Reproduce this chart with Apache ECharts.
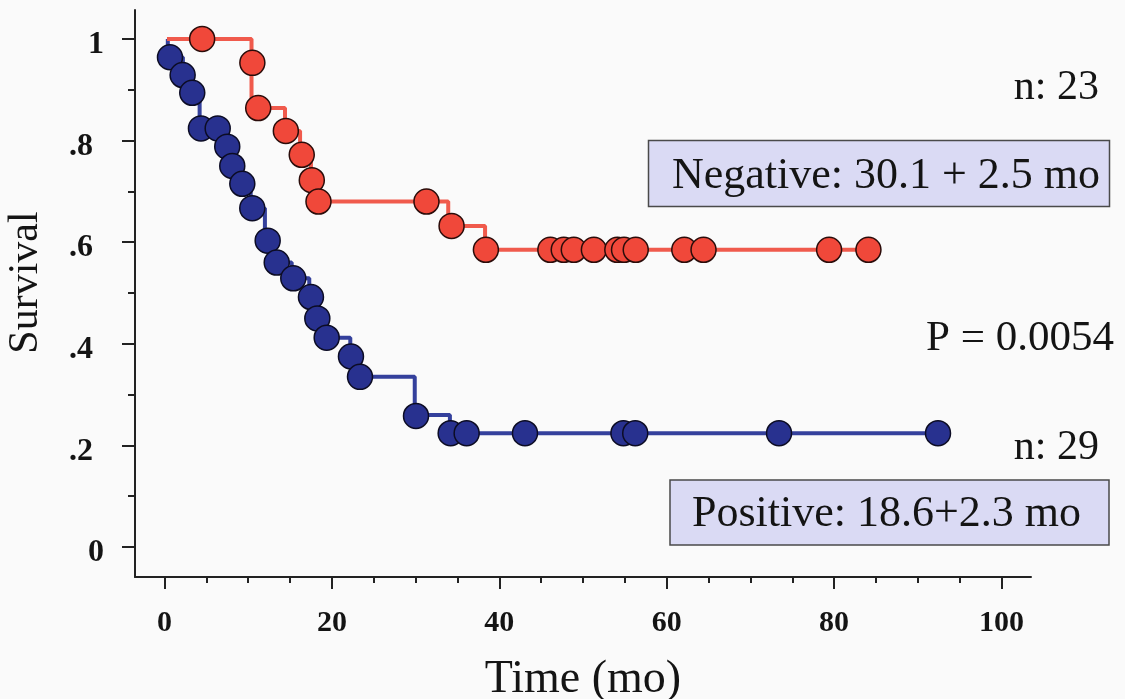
<!DOCTYPE html>
<html>
<head>
<meta charset="utf-8">
<title>Survival by status</title>
<script src="https://cdn.jsdelivr.net/npm/echarts@6/dist/echarts.min.js"></script>
<style>
  html, body { margin: 0; padding: 0; background: #fafafa; }
  #chart { width: 1125px; height: 699px; }
</style>
</head>
<body>
<div id="chart"></div>
<script>
// Kaplan-Meier step curves: each point is (time, survival from that time on)
const negStepTime = [0.3, 10.4, 14.4, 16.2, 17.5, 18.3, 33.9, 38.3, 84.1];
const negStepSurv = [1.0, 0.864, 0.819, 0.772, 0.722, 0.680, 0.632, 0.585, 0.585];

const posStepTime = [0.4, 0.4, 2.2, 3.3, 4.2, 7.0, 8.0, 9.2, 10.3, 12.0, 13.2, 15.2, 17.3, 18.1, 19.2, 22.2, 23.4, 29.9, 34.1, 92.4];
const posStepSurv = [1.0, 0.964, 0.929, 0.894, 0.824, 0.788, 0.750, 0.715, 0.667, 0.603, 0.560, 0.529, 0.492, 0.450, 0.412, 0.375, 0.335, 0.260, 0.224, 0.224];

// Patient markers
const negMarkTime = [4.5, 10.5, 11.2, 14.5, 16.4, 17.6, 18.4, 31.3, 34.3, 38.4, 46.1, 47.7, 48.9, 51.3, 54.1, 54.9, 56.3, 62.1, 64.4, 79.4, 84.1];
const negMarkSurv = [1.0, 0.953, 0.864, 0.819, 0.772, 0.722, 0.680, 0.680, 0.632, 0.585, 0.585, 0.585, 0.585, 0.585, 0.585, 0.585, 0.585, 0.585, 0.585, 0.585, 0.585];

const posMarkTime = [0.66, 2.17, 3.32, 4.36, 6.36, 7.50, 8.10, 9.30, 10.49, 12.33, 13.41, 15.39, 17.50, 18.26, 19.38, 22.28, 23.36, 30.05, 34.19, 36.10, 43.07, 54.83, 56.24, 73.42, 92.41];
const posMarkSurv = [0.964, 0.929, 0.894, 0.824, 0.824, 0.788, 0.750, 0.715, 0.667, 0.603, 0.560, 0.529, 0.492, 0.450, 0.412, 0.375, 0.335, 0.258, 0.224, 0.224, 0.224, 0.224, 0.224, 0.224, 0.224];

// Axis ticks and labels
const xMajorTicks = [0, 20, 40, 60, 80, 100];
const xMinorTicks = [5, 10, 15, 25, 30, 35, 45, 50, 55, 65, 70, 75, 85, 90, 95];
const yMajorTicks = [0, 0.2, 0.4, 0.6, 0.8, 1];
const yMinorTicks = [0.1, 0.3, 0.5, 0.7, 0.9];
const yTickLabels = ['0', '.2', '.4', '.6', '.8', '1'];

// Axis extents: the axis lines run a little past the 0..100 / 0..1 data range
const X_MIN = -3.52, X_MAX = 103.52;
const Y_MIN = -0.059, Y_MAX = 1.057;

const FONT = "'Liberation Serif', 'Times New Roman', serif";
const RED = '#f0483a';
const RED_LINE = '#f05a4c';
const BLUE = '#28318f';
const BLUE_LINE = '#34409c';
const AXIS = '#222222';
const INK = '#141414';

function zip(a, b) { return a.map((v, i) => [v, b[i]]); }

const chart = echarts.init(document.getElementById('chart'), null, { renderer: 'canvas' });

const hidden = { show: false };

chart.setOption({
  backgroundColor: '#fafafa',
  animation: false,
  grid: {
    left: 135, top: 10, width: 896, height: 567,
    containLabel: false, outerBoundsMode: 'none'
  },
  xAxis: [
    {
      type: 'value', position: 'bottom', min: X_MIN, max: X_MAX,
      axisLine: { show: true, onZero: false, lineStyle: { color: AXIS, width: 2 } },
      axisTick: { show: true, inside: false, length: 12, customValues: xMajorTicks, lineStyle: { color: AXIS, width: 2 } },
      splitLine: hidden,
      axisLabel: {
        customValues: xMajorTicks, margin: 31, showMinLabel: true, showMaxLabel: true,
        fontFamily: FONT, fontWeight: 'bold', fontSize: 30, color: INK
      },
      name: 'Time (mo)', nameLocation: 'middle', nameGap: 80,
      nameTextStyle: { fontFamily: FONT, fontSize: 46, color: INK }
    },
    {
      type: 'value', position: 'bottom', min: X_MIN, max: X_MAX,
      axisLine: { show: false, onZero: false },
      axisTick: { show: true, inside: false, length: 6, customValues: xMinorTicks, lineStyle: { color: AXIS, width: 2 } },
      axisLabel: hidden, splitLine: hidden
    }
  ],
  yAxis: [
    {
      type: 'value', position: 'left', min: Y_MIN, max: Y_MAX,
      axisLine: { show: true, onZero: false, lineStyle: { color: AXIS, width: 2 } },
      axisTick: { show: true, inside: false, length: 13, customValues: yMajorTicks, lineStyle: { color: AXIS, width: 2 } },
      splitLine: hidden,
      axisLabel: {
        customValues: yMajorTicks, margin: 31, showMinLabel: true, showMaxLabel: true,
        formatter: function (v) {
          const idx = yMajorTicks.findIndex(t => Math.abs(t - v) < 1e-6);
          const txt = idx >= 0 ? yTickLabels[idx] : '';
          return (idx === 0 || idx === yMajorTicks.length - 1) ? '{w|' + txt + '}' : '{d|' + txt + '}';
        },
        rich: {
          w: { fontFamily: FONT, fontWeight: 'bold', fontSize: 32, color: INK, padding: [12, 0, 0, 0] },
          d: { fontFamily: FONT, fontWeight: 'bold', fontSize: 32, color: INK, padding: [12, 11, 0, 0] }
        }
      },
      name: 'Survival', nameLocation: 'middle', nameGap: 88, nameRotate: 90,
      nameTextStyle: { fontFamily: FONT, fontSize: 42, color: INK, padding: [0, 0, 0, 22] }
    },
    {
      type: 'value', position: 'left', min: Y_MIN, max: Y_MAX,
      axisLine: { show: false, onZero: false },
      axisTick: { show: true, inside: false, length: 7, customValues: yMinorTicks, lineStyle: { color: AXIS, width: 2 } },
      axisLabel: hidden, splitLine: hidden
    }
  ],
  series: [
    {
      name: 'Positive', type: 'line', step: 'end',
      data: zip(posStepTime, posStepSurv), showSymbol: false,
      lineStyle: { color: BLUE_LINE, width: 4 }, z: 2
    },
    {
      name: 'Negative', type: 'line', step: 'end',
      data: zip(negStepTime, negStepSurv), showSymbol: false,
      lineStyle: { color: RED_LINE, width: 4 }, z: 3
    },
    {
      name: 'Positive patients', type: 'scatter',
      data: zip(posMarkTime, posMarkSurv), symbol: 'circle', symbolSize: 25,
      itemStyle: { color: BLUE, borderColor: '#0c0c24', borderWidth: 1.5, opacity: 1 }, z: 4
    },
    {
      name: 'Negative patients', type: 'scatter',
      data: zip(negMarkTime, negMarkSurv), symbol: 'circle', symbolSize: 25,
      itemStyle: { color: RED, borderColor: '#2a0c0a', borderWidth: 1.5, opacity: 1 }, z: 5
    }
  ],
  graphic: [
    { type: 'text', x: 1099, y: 88,
      style: { text: 'n: 23', font: '42px ' + FONT, fill: INK, align: 'right', verticalAlign: 'middle' } },
    { type: 'rect', shape: { x: 648.5, y: 140.5, width: 461, height: 66 },
      style: { fill: '#dadaf4', stroke: '#4a4a4a', lineWidth: 1.5 } },
    { type: 'text', x: 1100, y: 176,
      style: { text: 'Negative: 30.1 + 2.5 mo', font: '44px ' + FONT, fill: INK, align: 'right', verticalAlign: 'middle' } },
    { type: 'text', x: 1114, y: 339,
      style: { text: 'P = 0.0054', font: '43px ' + FONT, fill: INK, align: 'right', verticalAlign: 'middle' } },
    { type: 'text', x: 1099, y: 448,
      style: { text: 'n: 29', font: '42px ' + FONT, fill: INK, align: 'right', verticalAlign: 'middle' } },
    { type: 'rect', shape: { x: 670, y: 480, width: 439, height: 65 },
      style: { fill: '#dadaf4', stroke: '#4a4a4a', lineWidth: 1.5 } },
    { type: 'text', x: 1081, y: 514,
      style: { text: 'Positive: 18.6+2.3 mo', font: '44px ' + FONT, fill: INK, align: 'right', verticalAlign: 'middle' } }
  ]
});
</script>
</body>
</html>
